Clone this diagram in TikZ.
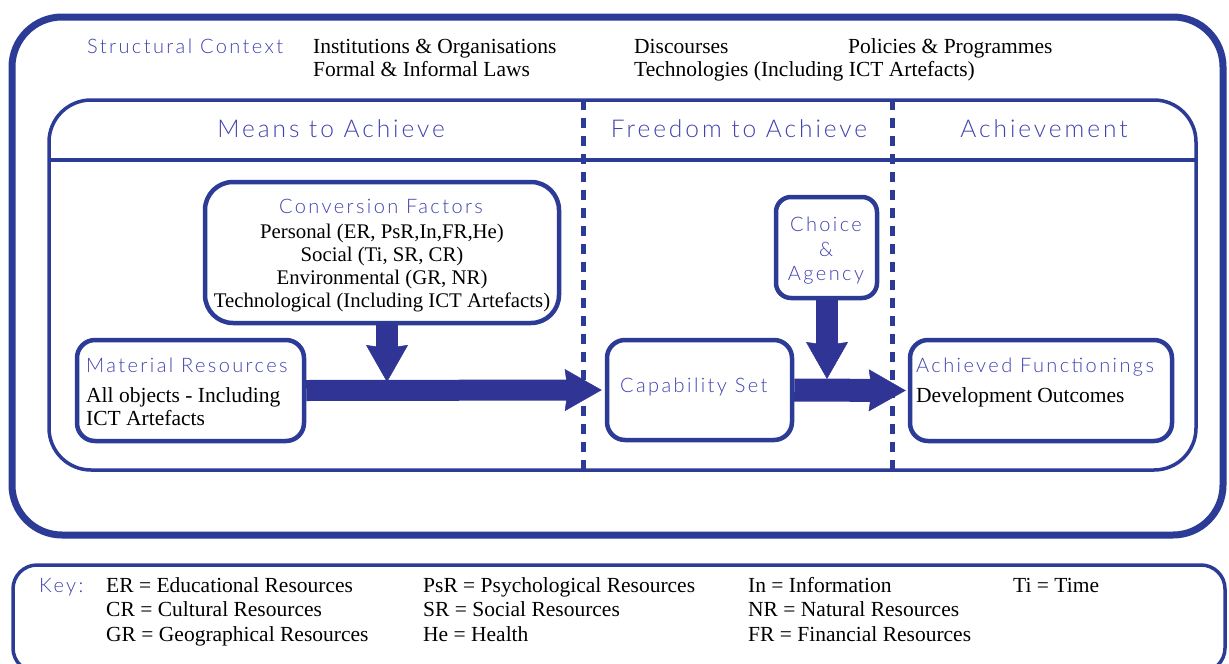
\documentclass[tikz,border=0pt]{standalone}
\usepackage{fontspec}
\setmainfont{Liberation Serif}
\newfontfamily\labelfont[LetterSpace=12]{Lato Light}
\usetikzlibrary{arrows.meta}

\definecolor{frameblue}{RGB}{43,59,150}
\definecolor{arrowblue}{RGB}{48,52,148}
\definecolor{labelblue}{RGB}{66,66,176}

\tikzset{
	outerframe/.style={draw=frameblue, line width=7pt, rounded corners=50pt},
	innerframe/.style={draw=frameblue, line width=3.5pt, rounded corners=42pt},
	keyframe/.style={draw=frameblue, line width=3.5pt, rounded corners=24pt},
	divider/.style={draw=frameblue, line width=5pt, dash pattern=on 10pt off 8pt},
	factorbox/.style={draw=frameblue, fill=white, line width=4.5pt, rounded corners=#1, inner sep=0pt},
	blockarrow/.style={draw=arrowblue, line width=#1, -{Stealth[length=37pt,width=42pt,inset=3pt,line width=0.5pt]}},
	labeltext/.style={text=labelblue, inner sep=0pt, font=\labelfont\fontsize{20}{24}\selectfont},
	headtext/.style={labeltext, font=\labelfont\fontsize{24.5}{28}\selectfont},
	plaintext/.style={inner sep=0pt, font=\fontsize{21.5}{24}\selectfont},
	convtext/.style={plaintext, font=\fontsize{20.8}{24}\selectfont}
}

\begin{document}
\begin{tikzpicture}[x=1pt,y=-1pt]
		\useasboundingbox (0,0) rectangle (1229,664);
		
		%frames
		\draw[outerframe] (12,17) rectangle (1223,535);
		\draw[innerframe] (49,100) rectangle (1196,470);
		\draw[frameblue, line width=3.5pt] (49,160) -- (1196,160);
		\draw[divider] (583,100) -- (583,470);
		\draw[divider] (892,100) -- (892,470);
		\draw[keyframe] (13,565) rectangle (1225,672);
		
		%structural context
		\node[labeltext, anchor=base west] (structlbl) at (87,53) {Structural Context};
		\node[plaintext, anchor=base west] (institutions) at (313,53) {Institutions \& Organisations};
		\node[plaintext, anchor=base west] (laws) at (313,76) {Formal \& Informal Laws};
		\node[plaintext, anchor=base west] (discourses) at (634,53) {Discourses};
		\node[plaintext, anchor=base west] (technologies) at (634,76) {Technologies (Including ICT Artefacts)};
		\node[plaintext, anchor=base west] (policies) at (848,53) {Policies \& Programmes};
		
		%headers
		\node[headtext, anchor=base] (meanshead) at (331,137) {Means to Achieve};
		\node[headtext, anchor=base] (freedomhead) at (739,137) {Freedom to Achieve};
		\node[headtext, anchor=base] (achievehead) at (1044,137) {Achievement};
		
		%boxes
		\node[factorbox=28pt, minimum width=354pt, minimum height=141pt] (conv) at (382,252.5) {};
		\node[factorbox=18pt, minimum width=227pt, minimum height=101pt] (mat) at (190.5,390.5) {};
		\node[factorbox=18pt, minimum width=185pt, minimum height=100pt] (cap) at (699.5,390) {};
		\node[factorbox=15pt, minimum width=101pt, minimum height=101pt] (choice) at (826.5,247.5) {};
		\node[factorbox=18pt, minimum width=262pt, minimum height=101pt] (ach) at (1041,390.5) {};
		
		%box texts
		\node[labeltext, anchor=base] (convtitle) at (381,213) {Conversion Factors};
		\node[convtext, anchor=base] (personal) at (382,238) {Personal (ER, PsR,In,FR,He)};
		\node[convtext, anchor=base] (social) at (382,261) {Social (Ti, SR, CR)};
		\node[convtext, anchor=base] (environ) at (382,284) {Environmental (GR, NR)};
		\node[convtext, anchor=base] (techno) at (382,307) {Technological (Including ICT Artefacts)};
		
		\node[labeltext, anchor=base west] (mattitle) at (86,372) {Material Resources};
		\node[plaintext, anchor=base west] (matline1) at (86,402) {All objects - Including};
		\node[plaintext, anchor=base west] (matline2) at (86,425) {ICT Artefacts};
		
		\node[labeltext, anchor=base west] (captitle) at (620,392) {Capability Set};
		
		\node[labeltext, anchor=base] (choice1) at (826,231) {Choice};
		\node[labeltext, anchor=base] (choice2) at (826,256) {\&};
		\node[labeltext, anchor=base] (choice3) at (826,280) {Agency};
		
		\node[labeltext, anchor=base west] (achtitle) at (916,372) {Achieved Functionings};
		\node[plaintext, anchor=base west] (achline) at (916,402) {Development Outcomes};
		
		%arrows
		\coordinate (convhit) at (387,382);
		\coordinate (choicehit) at (827,379);
		\draw[blockarrow=21pt, shorten >=3pt] (mat.east) -- (cap.west);
		\draw[blockarrow=23pt, shorten >=2pt] (cap.east) -- (ach.west);
		\draw[blockarrow=22pt] (convhit |- conv.south) -- (convhit);
		\draw[blockarrow=22pt] (choicehit |- choice.south) -- (choicehit);
		
		%key
		\node[labeltext, anchor=base west] (keylbl) at (39,592) {Key:};
		\node[plaintext, anchor=base west] (keyer) at (106,592) {ER = Educational Resources};
		\node[plaintext, anchor=base west] (keycr) at (106,616) {CR = Cultural Resources};
		\node[plaintext, anchor=base west] (keygr) at (106,641) {GR = Geographical Resources};
		\node[plaintext, anchor=base west] (keypsr) at (423,592) {PsR = Psychological Resources};
		\node[plaintext, anchor=base west] (keysr) at (423,616) {SR = Social Resources};
		\node[plaintext, anchor=base west] (keyhe) at (423,641) {He = Health};
		\node[plaintext, anchor=base west] (keyin) at (748,592) {In = Information};
		\node[plaintext, anchor=base west] (keynr) at (748,616) {NR = Natural Resources};
		\node[plaintext, anchor=base west] (keyfr) at (748,641) {FR = Financial Resources};
		\node[plaintext, anchor=base west] (keyti) at (1013,592) {Ti = Time};
		
\end{tikzpicture}
\end{document}
